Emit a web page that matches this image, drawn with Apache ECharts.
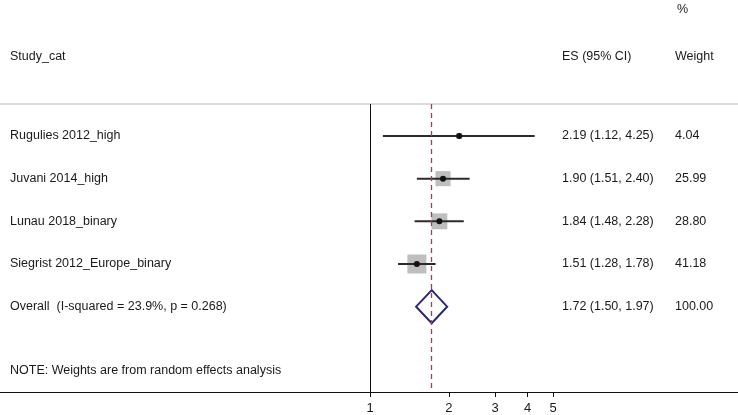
<!DOCTYPE html>
<html>
<head>
<meta charset="utf-8">
<script src="https://cdn.jsdelivr.net/npm/echarts@6/dist/echarts.min.js"></script>
<style>
html,body{margin:0;padding:0;background:#fff;}
#c{width:738px;height:415px;}
</style>
</head>
<body>
<div id="c"></div>
<script>
// ---- data ----
const studies = ['Rugulies 2012_high', 'Juvani 2014_high', 'Lunau 2018_binary', 'Siegrist 2012_Europe_binary'];
const esValues = [2.19, 1.90, 1.84, 1.51];
const ciLow = [1.12, 1.51, 1.48, 1.28];
const ciHigh = [4.25, 2.40, 2.28, 1.78];
const weights = [4.04, 25.99, 28.80, 41.18];
const overallLabel = 'Overall  (I-squared = 23.9%, p = 0.268)';
const overallES = 1.72, overallLow = 1.50, overallHigh = 1.97, overallWeight = 100.00;
const noteText = 'NOTE: Weights are from random effects analysis';
const tickVals = [1, 2, 3, 4, 5];

const FONT = '"Liberation Sans", Arial, sans-serif';
const TXT = '#1a1a1a';

const studyRows = studies.map((s, i) => [esValues[i], ciLow[i], ciHigh[i], i + 1, weights[i]]);
const overallRow = studies.length + 1;
const textRows = studies.map((s, i) => ({
  value: [1, i + 1],
  label: s,
  es: esValues[i].toFixed(2) + ' (' + ciLow[i].toFixed(2) + ', ' + ciHigh[i].toFixed(2) + ')',
  w: weights[i].toFixed(2)
}));
textRows.push({
  value: [1, overallRow], label: overallLabel,
  es: overallES.toFixed(2) + ' (' + overallLow.toFixed(2) + ', ' + overallHigh.toFixed(2) + ')',
  w: overallWeight.toFixed(2)
});
textRows.push({ value: [1, overallRow + 1.5], label: noteText, es: '', w: '' });

const chart = echarts.init(document.getElementById('c'));
const txtStyle = (text, x, y) => ({
  type: 'text', x: x, y: y,
  style: { text: text, fill: TXT, font: '12.5px ' + FONT, textVerticalAlign: 'middle', textAlign: 'left' }
});

chart.setOption({
  animation: false,
  backgroundColor: '#fff',
  grid: { left: 0, right: 0, top: 104, bottom: 22 },
  xAxis: [{
    type: 'log', logBase: 10, min: 0.0387, max: 25.39,
    position: 'bottom',
    axisLine: { show: true, lineStyle: { color: '#111', width: 1 } },
    axisTick: { show: true, length: 5, customValues: tickVals, lineStyle: { color: '#111', width: 1 } },
    axisLabel: { customValues: tickVals, fontSize: 13, fontFamily: FONT, color: TXT, margin: 10 },
    splitLine: { show: false },
    minorTick: { show: false }
  }, {
    type: 'value', position: 'top', min: 0, max: 1,
    axisLine: { show: true, lineStyle: { color: '#dcdcdc', width: 2 } },
    axisTick: { show: false }, axisLabel: { show: false }, splitLine: { show: false }
  }],
  yAxis: {
    type: 'value', inverse: true, min: 0.25, max: 7,
    show: false, splitLine: { show: false }
  },
  graphic: [
    txtStyle('Study_cat', 10, 57),
    txtStyle('ES (95% CI)', 562, 57),
    txtStyle('Weight', 675, 57),
    txtStyle('%', 677, 10)
  ],
  series: [{
    type: 'custom',
    name: 'studies',
    xAxisIndex: 0,
    clip: false,
    encode: { x: [0, 1, 2], y: 3 },
    data: studyRows,
    renderItem: function (params, api) {
      const es = api.value(0), lo = api.value(1), hi = api.value(2), row = api.value(3), w = api.value(4);
      const pE = api.coord([es, row]), pL = api.coord([lo, row]), pH = api.coord([hi, row]);
      const s = 2.96 * Math.sqrt(w);
      return {
        type: 'group', children: [
          { type: 'rect', shape: { x: pE[0] - s / 2, y: pE[1] - s / 2, width: s, height: s }, style: { fill: '#bebebe' } },
          { type: 'line', shape: { x1: pL[0], y1: pL[1], x2: pH[0], y2: pH[1] }, style: { stroke: '#2b2b2b', lineWidth: 2 } },
          { type: 'circle', shape: { cx: pE[0], cy: pE[1], r: 3 }, style: { fill: '#111' } }
        ]
      };
    },
    markLine: {
      silent: true, symbol: 'none', label: { show: false },
      emphasis: { disabled: true },
      data: [
        { xAxis: 1, lineStyle: { type: 'solid', color: '#111', width: 1, opacity: 1 } },
        { xAxis: overallES, lineStyle: { type: [5, 4], color: '#9a3f63', width: 1.3, opacity: 1 } }
      ]
    }
  }, {
    type: 'custom',
    name: 'overall',
    xAxisIndex: 0,
    clip: false,
    encode: { x: [0, 1, 2], y: 3 },
    data: [[overallES, overallLow, overallHigh, overallRow]],
    renderItem: function (params, api) {
      const es = api.value(0), lo = api.value(1), hi = api.value(2), row = api.value(3);
      const pE = api.coord([es, row]), pL = api.coord([lo, row]), pH = api.coord([hi, row]);
      const h = 16.5;
      return {
        type: 'polygon',
        shape: { points: [[pL[0], pL[1]], [pE[0], pE[1] - h], [pH[0], pH[1]], [pE[0], pE[1] + h]] },
        style: { fill: 'none', stroke: '#2a2870', lineWidth: 2 }
      };
    }
  }, {
    type: 'custom',
    name: 'texts',
    xAxisIndex: 0,
    clip: false,
    encode: { x: 0, y: 1 },
    data: textRows,
    renderItem: function (params, api) {
      const row = api.value(1);
      const y = api.coord([1, row])[1];
      const d = textRows[params.dataIndex];
      return {
        type: 'group', children: [
          txtStyle(d.label, 10, y),
          txtStyle(d.es, 562, y),
          txtStyle(d.w, 675, y)
        ]
      };
    }
  }]
});
</script>
</body>
</html>
